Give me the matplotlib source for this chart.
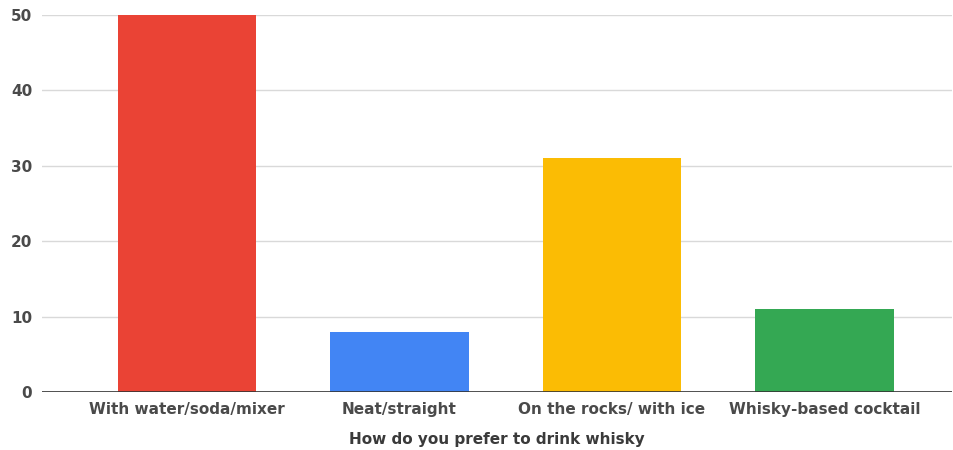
import matplotlib
matplotlib.use("Agg")
import matplotlib.pyplot as plt

categories = ["With water/soda/mixer", "Neat/straight", "On the rocks/ with ice", "Whisky-based cocktail"]
counts = [50, 8, 31, 11]
colors = ["#EA4335", "#4285F4", "#FBBC04", "#34A853"]
yticks = [0, 10, 20, 30, 40, 50]
xlabel = "How do you prefer to drink whisky"

plt.rcParams["font.family"] = ["DejaVu Sans"]

fig = plt.figure(figsize=(9.54, 4.5), dpi=100)
ax = fig.add_axes([0.044, 0.129, 0.954, 0.838])

x = list(range(len(categories)))
ax.bar(x, counts, width=0.65, color=colors, zorder=3)

ax.set_xlim(-0.682, 3.60)
ax.set_ylim(0, 50)
ax.set_yticks(yticks)
ax.set_xticks(x)
ax.set_xticklabels(categories)

ax.grid(axis="y", color="#d9d9d9", linewidth=1.0, zorder=0)
ax.axhline(0, color="#333333", linewidth=1.2, zorder=4)

for s in ax.spines.values():
    s.set_visible(False)
ax.tick_params(axis="both", length=0, labelsize=11, labelcolor="#4a4a4a")
ax.tick_params(axis="y", pad=7)
ax.tick_params(axis="x", pad=7)
for lbl in ax.get_xticklabels() + ax.get_yticklabels():
    lbl.set_fontweight("bold")

ax.set_xlabel(xlabel, fontsize=11, color="#3a3a3a", fontweight="semibold", labelpad=11)

fig.savefig("out.png", dpi=100, facecolor="white")
